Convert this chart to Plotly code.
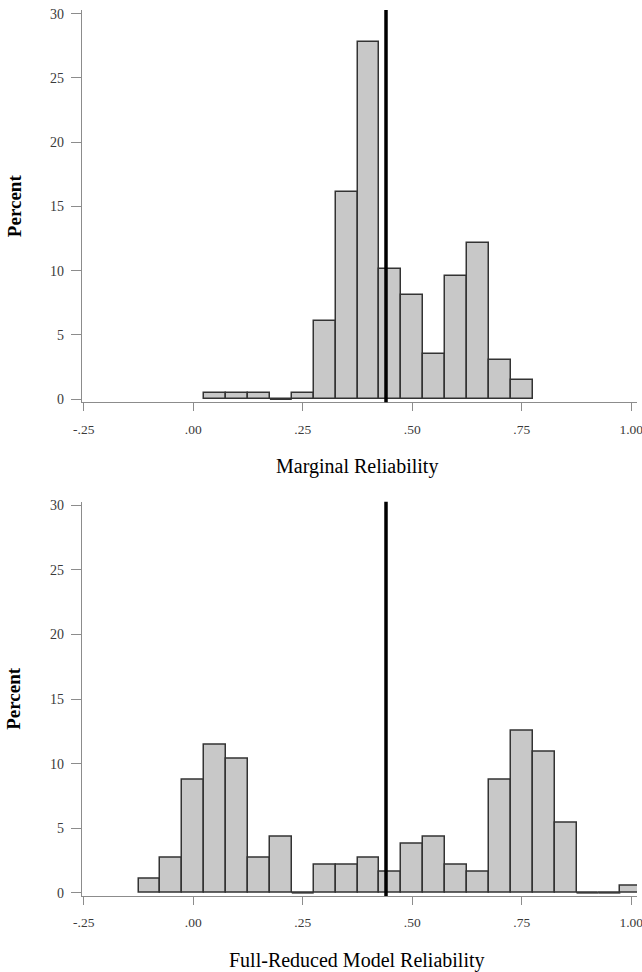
import plotly.graph_objects as go
from plotly.subplots import make_subplots

# --- data ---
marginal_bins = [0.05, 0.10, 0.15, 0.20, 0.25, 0.30, 0.35, 0.40, 0.45, 0.50,
                 0.55, 0.60, 0.65, 0.70, 0.75]
marginal_pct = [0.5, 0.5, 0.5, 0.0, 0.5, 6.06, 16.16, 27.78, 10.1, 8.08,
                3.54, 9.6, 12.12, 3.03, 1.52]

fullred_bins = [-0.10, -0.05, 0.00, 0.05, 0.10, 0.15, 0.20, 0.25, 0.30, 0.35,
                0.40, 0.45, 0.50, 0.55, 0.60, 0.65, 0.70, 0.75, 0.80, 0.85,
                0.90, 0.95, 1.00]
fullred_pct = [1.1, 2.73, 8.74, 11.48, 10.38, 2.73, 4.37, 0.0, 2.19, 2.19,
               2.73, 1.64, 3.83, 4.37, 2.19, 1.64, 8.74, 12.57, 10.93, 5.46,
               0.0, 0.0, 0.55]

bin_width = 0.05
reference_value = 0.44

x_tickvals = [-0.25, 0.0, 0.25, 0.50, 0.75, 1.00]
x_ticktext = ["-.25", ".00", ".25", ".50", ".75", "1.00"]
y_tickvals = [0, 5, 10, 15, 20, 25, 30]

x_titles = ["Marginal Reliability", "Full-Reduced Model Reliability"]
y_title = "Percent"

# --- figure ---
fig = make_subplots(rows=2, cols=1, vertical_spacing=0.1)

BAR_FILL = "#c8c8c8"
BAR_LINE = "#333333"
AXIS_COL = "#8c8c8c"
SERIF = "Liberation Serif, Times New Roman, serif"

W, H = 642, 972
ML, MR, MT, MB = 82, 5, 10, 76
PW, PH = W - ML - MR, H - MT - MB
top_domain = [0.5572, 1.0]
bot_domain = [0.0, 0.445]

panels = [(marginal_bins, marginal_pct), (fullred_bins, fullred_pct)]
for i, (bins, pct) in enumerate(panels, start=1):
    fig.add_trace(go.Bar(x=bins, y=pct, width=bin_width,
                         marker=dict(color=BAR_FILL,
                                     line=dict(color=BAR_LINE, width=1.5)),
                         showlegend=False), row=i, col=1)
    # zero-height bins drawn as outline on the baseline
    for b, v in zip(bins, pct):
        if v == 0:
            fig.add_trace(go.Scatter(x=[b - bin_width / 2, b + bin_width / 2],
                                     y=[v, v], mode="lines",
                                     line=dict(color=BAR_LINE, width=1.5),
                                     showlegend=False, hoverinfo="skip"),
                          row=i, col=1)
    xref = "x" if i == 1 else "x2"
    yref = "y domain" if i == 1 else "y2 domain"
    fig.add_shape(type="line", xref=xref, yref=yref,
                  x0=reference_value, x1=reference_value, y0=0, y1=1,
                  line=dict(color="black", width=3.5))

xtickfont = dict(family=SERIF, size=13.5, color="#3a3a3a")
ytickfont = dict(family=SERIF, size=14, color="#3a3a3a")
for i in (1, 2):
    fig.update_xaxes(row=i, col=1, range=[-0.254, 1.013],
                     tickvals=x_tickvals, ticktext=x_ticktext,
                     ticks="outside", ticklen=8, tickcolor=AXIS_COL,
                     showline=True, linecolor=AXIS_COL, linewidth=1.3,
                     showgrid=False, zeroline=False, tickfont=xtickfont,
                     ticklabeloverflow="allow", automargin=False,
                     ticklabelstandoff=6)
    fig.update_yaxes(row=i, col=1, range=[-0.24, 30.28],
                     tickvals=y_tickvals, ticks="outside", ticklen=10,
                     tickcolor=AXIS_COL, showline=True, linecolor=AXIS_COL,
                     linewidth=1.3, showgrid=False, zeroline=False,
                     tickfont=ytickfont, ticklabelstandoff=4, automargin=False)

# axis titles as annotations
for dom, xt, ybot in ((top_domain, x_titles[0], 466), (bot_domain, x_titles[1], 960)):
    fig.add_annotation(text="<b>" + y_title + "</b>", textangle=-90,
                       xref="paper", yref="paper",
                       x=(14 - ML) / PW, y=(dom[0] + dom[1]) / 2,
                       xanchor="center", yanchor="middle", showarrow=False,
                       font=dict(family=SERIF, size=19, color="black"))
    fig.add_annotation(text=xt, xref="paper", yref="paper",
                       x=(357 - ML) / PW, y=(H - MB - ybot) / PH,
                       xanchor="center", yanchor="middle", showarrow=False,
                       font=dict(family=SERIF, size=20, color="black"))

fig.update_layout(
    width=W, height=H,
    margin=dict(l=ML, r=MR, t=MT, b=MB, autoexpand=False),
    paper_bgcolor="white", plot_bgcolor="white",
    bargap=0,
    yaxis=dict(domain=top_domain),
    yaxis2=dict(domain=bot_domain),
)

fig.write_html("out.html",
               config={"displayModeBar": False},
               post_script="document.body.style.margin='0';"
                           "document.body.style.overflow='hidden';")
